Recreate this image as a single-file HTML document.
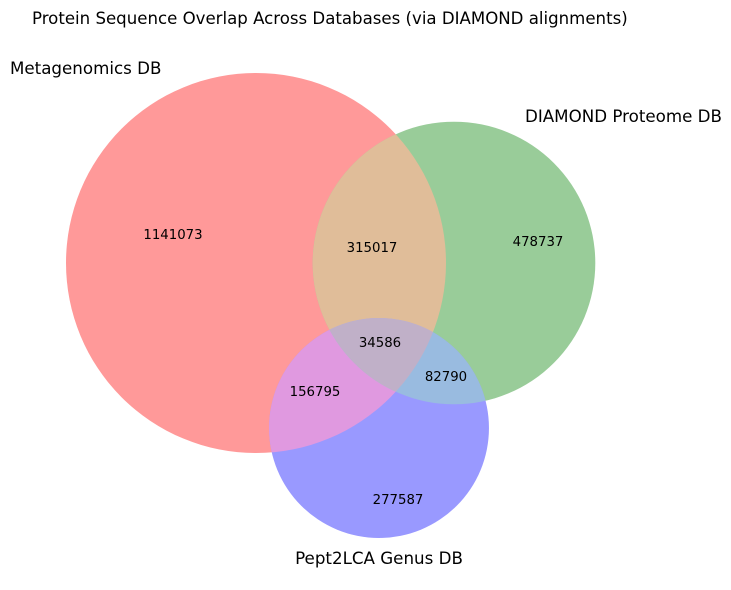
<!DOCTYPE html>
<html><head><meta charset="utf-8"><style>
html,body{margin:0;padding:0;background:#fff;}
svg{display:block;font-family:"DejaVu Sans","Liberation Sans",sans-serif;}
</style></head><body>
<svg id="chart" width="731" height="590" viewBox="0 0 731 590">
<text x="32" y="24" font-size="16.6" fill="#000">Protein Sequence Overlap Across Databases (via DIAMOND alignments)</text>
<g id="regions"></g>
<g id="labels"></g>
</svg>
<script>
const setNames = ["Metagenomics DB", "DIAMOND Proteome DB", "Pept2LCA Genus DB"];
// region order: A only, B only, AB, C only, AC, BC, ABC
const regionKeys = ["100", "010", "110", "001", "101", "011", "111"];
const regionValues = [1141073, 478737, 315017, 277587, 156795, 82790, 34586];

const NS = "http://www.w3.org/2000/svg";
const svg = document.getElementById("chart");
const gR = document.getElementById("regions");
const gL = document.getElementById("labels");
function mk(tag, attrs, parent){const e=document.createElementNS(NS,tag);for(const k in attrs)e.setAttribute(k,attrs[k]);parent.appendChild(e);return e;}

const totals = [0,0,0];
regionKeys.forEach((k,i)=>{for(let s=0;s<3;s++) if(k[s]==="1") totals[s]+=regionValues[i];});
const scale = 190/Math.sqrt(1647471);
const radii = totals.map(t=>Math.sqrt(t)*scale);
const centers = [[256,263],[454,263],[379,428]];
const baseCols = ["#ff9999","#99cc99","#9999ff"];
const regionColors = {"110":"#e0bd99","101":"#e099e0","011":"#99bbe0","111":"#c0b0c8"};

const defs = mk("defs",{},svg);
for(let s=0;s<3;s++){
  const cp = mk("clipPath",{id:"clip"+s},defs);
  mk("circle",{cx:centers[s][0],cy:centers[s][1],r:radii[s]},cp);
}
for(let s=0;s<3;s++){
  const c = mk("circle",{cx:centers[s][0],cy:centers[s][1],r:radii[s],fill:baseCols[s]},gR);
  
  
}
function inter(a,b,col,name){
  const g = mk("g",{"clip-path":"url(#clip"+a+")"},gR);
  const c = mk("circle",{cx:centers[b][0],cy:centers[b][1],r:radii[b],fill:col},g);
  
  
  return g;
}
inter(0,1,regionColors["110"],"region-ab");
inter(0,2,regionColors["101"],"region-ac");
inter(1,2,regionColors["011"],"region-bc");
{
  const g1 = mk("g",{"clip-path":"url(#clip0)"},gR);
  const g2 = mk("g",{"clip-path":"url(#clip1)"},g1);
  const c = mk("circle",{cx:centers[2][0],cy:centers[2][1],r:radii[2],fill:regionColors["111"]},g2);
  
  
}
const labelPos = {"100":[173,239],"010":[538,246],"110":[372,252],"001":[398,504],"101":[315,396],"011":[446,381],"111":[380,347]};
regionKeys.forEach((k,i)=>{
  const t = mk("text",{x:labelPos[k][0],y:labelPos[k][1],"font-size":13.3,"text-anchor":"middle",fill:"#000"},gL);
  t.textContent = regionValues[i];
  
  
});
const setLabelPos = [[10,74,"start"],[525,122,"start"],[379,564,"middle"]];
setNames.forEach((n,s)=>{
  const t = mk("text",{x:setLabelPos[s][0],y:setLabelPos[s][1],"font-size":16.7,"text-anchor":setLabelPos[s][2],fill:"#000"},gL);
  t.textContent = n;
  
  
});
</script>
</body></html>
